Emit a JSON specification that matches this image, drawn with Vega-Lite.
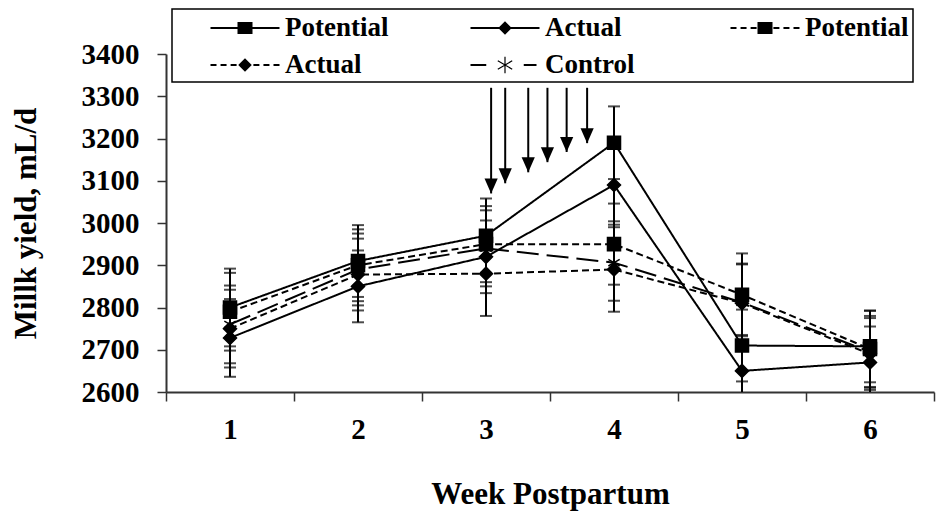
{
  "$schema": "https://vega.github.io/schema/vega-lite/v6.json",
  "width": 768,
  "height": 338,
  "autosize": {"type": "none"},
  "padding": {"left": 166, "top": 54, "right": 15, "bottom": 123},
  "background": "white",
  "config": {
    "view": {"stroke": null},
    "axis": {
      "domainColor": "#333333", "domainWidth": 2, "tickColor": "#333333", "tickWidth": 1.5, "tickSize": 9,
      "labelFont": "Liberation Serif", "labelFontSize": 29, "labelFontWeight": "bold", "labelColor": "black",
      "titleFont": "Liberation Serif", "titleFontSize": 31, "titleFontWeight": "bold", "titleColor": "black",
      "grid": false
    },
    "axisY": {"labelPadding": 18, "titlePadding": 39},
    "axisX": {"labelPadding": 14, "titlePadding": 35},
    "legend": {"strokeWidth": 1.5}
  },
  "datasets": {
    "milk": [
      {"week": 1, "series": "Potential A", "value": 2800, "lo": 2708, "hi": 2892},
      {"week": 1, "series": "Actual A", "value": 2728, "lo": 2636, "hi": 2820},
      {"week": 1, "series": "Potential B", "value": 2790, "lo": 2698, "hi": 2882},
      {"week": 1, "series": "Actual B", "value": 2750, "lo": 2658, "hi": 2842},
      {"week": 1, "series": "Control", "value": 2760, "lo": 2668, "hi": 2852},
      {"week": 2, "series": "Potential A", "value": 2910, "lo": 2825, "hi": 2995},
      {"week": 2, "series": "Actual A", "value": 2850, "lo": 2765, "hi": 2935},
      {"week": 2, "series": "Potential B", "value": 2900, "lo": 2815, "hi": 2985},
      {"week": 2, "series": "Actual B", "value": 2878, "lo": 2793, "hi": 2963},
      {"week": 2, "series": "Control", "value": 2890, "lo": 2805, "hi": 2975},
      {"week": 3, "series": "Potential A", "value": 2970, "lo": 2882, "hi": 3058},
      {"week": 3, "series": "Actual A", "value": 2920, "lo": 2834, "hi": 3006},
      {"week": 3, "series": "Potential B", "value": 2950, "lo": 2860, "hi": 3040},
      {"week": 3, "series": "Actual B", "value": 2880, "lo": 2780, "hi": 2980},
      {"week": 3, "series": "Control", "value": 2940, "lo": 2850, "hi": 3030},
      {"week": 4, "series": "Potential A", "value": 3190, "lo": 3104, "hi": 3276},
      {"week": 4, "series": "Actual A", "value": 3090, "lo": 3004, "hi": 3176},
      {"week": 4, "series": "Potential B", "value": 2950, "lo": 2854, "hi": 3046},
      {"week": 4, "series": "Actual B", "value": 2890, "lo": 2790, "hi": 2990},
      {"week": 4, "series": "Control", "value": 2906, "lo": 2816, "hi": 2996},
      {"week": 5, "series": "Potential A", "value": 2710, "lo": 2625, "hi": 2795},
      {"week": 5, "series": "Actual A", "value": 2650, "lo": 2565, "hi": 2735},
      {"week": 5, "series": "Potential B", "value": 2830, "lo": 2732, "hi": 2928},
      {"week": 5, "series": "Actual B", "value": 2810, "lo": 2716, "hi": 2904},
      {"week": 5, "series": "Control", "value": 2812, "lo": 2722, "hi": 2902},
      {"week": 6, "series": "Potential A", "value": 2708, "lo": 2623, "hi": 2793},
      {"week": 6, "series": "Actual A", "value": 2670, "lo": 2585, "hi": 2755},
      {"week": 6, "series": "Potential B", "value": 2702, "lo": 2612, "hi": 2792},
      {"week": 6, "series": "Actual B", "value": 2690, "lo": 2605, "hi": 2775},
      {"week": 6, "series": "Control", "value": 2695, "lo": 2610, "hi": 2780}
    ],
    "arrows": [
      {"week": 3.04, "top": 3320, "tip": 3070},
      {"week": 3.15, "top": 3320, "tip": 3094},
      {"week": 3.33, "top": 3320, "tip": 3120},
      {"week": 3.48, "top": 3320, "tip": 3144},
      {"week": 3.63, "top": 3320, "tip": 3168},
      {"week": 3.79, "top": 3320, "tip": 3189}
    ]
  },
  "encoding": {
    "x": {
      "field": "week", "type": "quantitative", "title": "Week Postpartum",
      "scale": {"domain": [0.5, 6.5], "nice": false, "zero": false},
      "axis": {
        "values": [0.5, 1, 1.5, 2, 2.5, 3, 3.5, 4, 4.5, 5, 5.5, 6, 6.5],
        "labelExpr": "datum.value % 1 == 0 ? '' + datum.value : ''",
        "labelOverlap": false,
        "labelFlush": false,
        "tickOpacity": {"condition": {"test": "datum.value % 1 == 0", "value": 0}, "value": 1}
      }
    }
  },
  "layer": [
    {
      "data": {"name": "milk"},
      "mark": {"type": "rule", "clip": true, "color": "black", "strokeWidth": 2},
      "encoding": {
        "y": {"field": "lo", "type": "quantitative", "title": "Millk yield, mL/d", "scale": {"domain": [2600, 3400], "nice": false, "zero": false},
              "axis": {"values": [2600, 2700, 2800, 2900, 3000, 3100, 3200, 3300, 3400], "format": "d", "labelOverlap": false}},
        "y2": {"field": "hi"}
      }
    },
    {
      "data": {"name": "milk"},
      "mark": {"type": "tick", "orient": "horizontal", "clip": true, "color": "black", "size": 12, "thickness": 2},
      "encoding": {"y": {"field": "hi", "type": "quantitative", "title": "Millk yield, mL/d"}}
    },
    {
      "data": {"name": "milk"},
      "mark": {"type": "tick", "orient": "horizontal", "clip": true, "color": "black", "size": 12, "thickness": 2},
      "encoding": {"y": {"field": "lo", "type": "quantitative", "title": "Millk yield, mL/d"}}
    },
    {
      "data": {"name": "milk"},
      "mark": {"type": "line", "color": "black", "strokeWidth": 2},
      "encoding": {
        "y": {"field": "value", "type": "quantitative", "title": "Millk yield, mL/d"},
        "strokeDash": {"field": "series", "type": "nominal",
          "scale": {"domain": ["Potential A", "Actual A", "Potential B", "Actual B", "Control"],
                    "range": [[1, 0], [1, 0], [7, 4], [7, 4], [22, 8]]},
          "legend": null}
      }
    },
    {
      "data": {"name": "milk"},
      "mark": {"type": "point", "filled": true, "color": "black", "stroke": "black", "strokeWidth": 1.5, "size": 170, "opacity": 1},
      "encoding": {
        "y": {"field": "value", "type": "quantitative", "title": "Millk yield, mL/d"},
        "shape": {"field": "series", "type": "nominal",
          "scale": {"domain": ["Potential A", "Actual A", "Potential B", "Actual B", "Control"],
                    "range": ["square", "diamond", "square", "diamond", "M0,-1V1M-0.87,-0.5L0.87,0.5M-0.87,0.5L0.87,-0.5"]},
          "legend": null}
      }
    },
    {
      "data": {"name": "arrows"},
      "mark": {"type": "rule", "color": "black", "strokeWidth": 2},
      "encoding": {
        "y": {"field": "top", "type": "quantitative", "title": "Millk yield, mL/d"},
        "y2": {"field": "tip"}
      }
    },
    {
      "data": {"name": "arrows"},
      "mark": {"type": "point", "filled": true, "color": "black", "opacity": 1, "size": 576, "shape": "M0,0L-0.55,-1.25L0.55,-1.25Z"},
      "encoding": {
        "y": {"field": "tip", "type": "quantitative", "title": "Millk yield, mL/d"}
      }
    },
    {
      "data": {"name": "milk"},
      "transform": [{"filter": "datum.week > 99"}],
      "mark": {"type": "point", "filled": true, "color": "black", "size": 900, "opacity": 1},
      "encoding": {
        "y": {"field": "value", "type": "quantitative", "title": "Millk yield, mL/d"},
        "shape": {"field": "series", "type": "nominal",
          "scale": {"domain": ["Potential A", "Actual B", "Actual A", "Control", "Potential B"],
                    "range": [
                      "M-2.3,-0.067H2.3V0.067H-2.3Z M-0.5,-0.4H0.5V0.4H-0.5Z",
                      "M-2.3,-0.067H-1.9V0.067H-2.3Z M-1.63,-0.067H-1.23V0.067H-1.63Z M-0.96,-0.067H-0.56V0.067H-0.96Z M0.56,-0.067H0.96V0.067H0.56Z M1.23,-0.067H1.63V0.067H1.23Z M1.9,-0.067H2.3V0.067H1.9Z M0,-0.45L0.45,0L0,0.45L-0.45,0Z",
                      "M-2.3,-0.067H2.3V0.067H-2.3Z M0,-0.45L0.45,0L0,0.45L-0.45,0Z",
                      "M-2.3,-0.067H-1.25V0.067H-2.3Z M1.25,-0.067H2.1V0.067H1.25Z M-0.04,-0.55H0.04V0.55H-0.04Z M-0.46,-0.315L0.5,0.245L0.46,0.315L-0.5,-0.245Z M-0.5,0.245L0.46,-0.315L0.5,-0.245L-0.46,0.315Z",
                      "M-2.3,-0.067H-1.9V0.067H-2.3Z M-1.63,-0.067H-1.23V0.067H-1.63Z M-0.96,-0.067H-0.56V0.067H-0.96Z M0.56,-0.067H0.96V0.067H0.56Z M1.23,-0.067H1.63V0.067H1.23Z M1.9,-0.067H2.3V0.067H1.9Z M-0.5,-0.4H0.5V0.4H-0.5Z"
                    ]},
          "legend": {
            "title": null, "orient": "none", "legendX": 6, "legendY": -45,
            "columns": 3, "gridAlign": "all", "columnPadding": 47, "rowPadding": 9, "padding": 4,
            "strokeColor": "black", "fillColor": "white",
            "symbolSize": 900, "symbolOffset": 54, "labelOffset": 25,
            "symbolFillColor": "black", "symbolStrokeWidth": 0,
            "labelFont": "Liberation Serif", "labelFontSize": 27, "labelFontWeight": "bold", "labelColor": "black",
            "labelLimit": 300,
            "labelExpr": "split(datum.label, ' ')[0]",
            "encode": {"symbols": {"fill": {"value": "black"}, "fillOpacity": {"value": 1}}}
          }
        }
      }
    }
  ],
  "resolve": {"scale": {"shape": "independent"}}
}
